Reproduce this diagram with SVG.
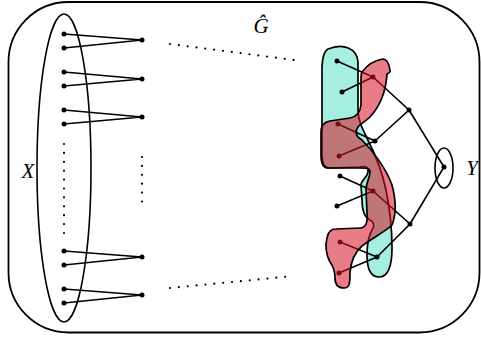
<svg xmlns="http://www.w3.org/2000/svg" width="481" height="338" viewBox="0 0 481 338">
<style>
.ln{stroke:#000;stroke-width:1.6;fill:none}
.dot{fill:#000}
.dots{stroke:#000;stroke-width:2.2;stroke-linecap:round;stroke-dasharray:0 8.9;fill:none}
.lbl{font-family:"Liberation Serif",serif;font-style:italic;font-size:21px;fill:#000}
.cyan{fill:#a4efdf;stroke:#000;stroke-width:1.7}
.red{fill:#d61224;fill-opacity:0.55;stroke:#000;stroke-width:1.7}
</style>
<rect id="G" x="8.5" y="2" width="471" height="330.5" rx="60" ry="60" fill="none" stroke="#000" stroke-width="1.8"/>
<text class="lbl" x="261" y="33" text-anchor="middle">Ĝ</text>
<g id="X">
<ellipse cx="64" cy="168" rx="27" ry="154" class="ln"/>
<text class="lbl" x="28" y="178" text-anchor="middle">X</text>
</g>
<g id="Yset">
<ellipse cx="444" cy="168" rx="9" ry="20" class="ln"/>
<text class="lbl" x="472" y="175" text-anchor="middle">Y</text>
</g>
<g id="cyanSet">
<path class="cyan" d="M328,49 C343,43 357,48 358,62 L358,110 C358,120 362,128 367,138 C374,152 382,170 386,190 C390,210 392,230 392,248 C392,265 388,277 379,277 C370,277 367,268 367,255 C367,243 368,237 372,230 C375,226 374,222 370,220 C364,217 362,210 362,200 L361,185 C361,180 367,178 368,172 C369,167 366,166 360,167 L330,168 C323,168 322,162 322,150 L322,70 C322,60 323,52 328,49 Z"/>
</g>
<g id="connectors" class="ln">
<path d="M64,34 L142,40 L64,48 M64,72 L142,79 L64,86 M64,110 L142,117 L64,124 M64,251 L142,257 L64,265 M64,289 L142,295 L64,303"/>
<path d="M337,61 L373,77 L342,92 M338,124 L375,141 L339,156 M340,176 L373,191 L337,206 M340,242 L377,257 L339,273 M373,77 L409,110 L375,141 M373,191 L410,224 L377,257 M409,110 L444,167 L410,224"/>
<path class="dots" d="M170,44 L294,60 M170,288 L294,276 M64,144 L64,233 M142,157 L142,203"/>
</g>
<g id="nodes" class="dot">
<circle cx="64" cy="34" r="2.5"/><circle cx="64" cy="48" r="2.5"/><circle cx="142" cy="40" r="2.5"/>
<circle cx="64" cy="72" r="2.5"/><circle cx="64" cy="86" r="2.5"/><circle cx="142" cy="79" r="2.5"/>
<circle cx="64" cy="110" r="2.5"/><circle cx="64" cy="124" r="2.5"/><circle cx="142" cy="117" r="2.5"/>
<circle cx="64" cy="251" r="2.5"/><circle cx="64" cy="265" r="2.5"/><circle cx="142" cy="257" r="2.5"/>
<circle cx="64" cy="289" r="2.5"/><circle cx="64" cy="303" r="2.5"/><circle cx="142" cy="295" r="2.5"/>
<circle cx="337" cy="61" r="2.5"/><circle cx="342" cy="92" r="2.5"/><circle cx="373" cy="77" r="2.5"/>
<circle cx="338" cy="124" r="2.5"/><circle cx="339" cy="156" r="2.5"/><circle cx="375" cy="141" r="2.5"/>
<circle cx="340" cy="176" r="2.5"/><circle cx="337" cy="206" r="2.5"/><circle cx="373" cy="191" r="2.5"/>
<circle cx="340" cy="242" r="2.5"/><circle cx="339" cy="273" r="2.5"/><circle cx="377" cy="257" r="2.5"/>
<circle cx="409" cy="110" r="2.5"/><circle cx="410" cy="224" r="2.5"/><circle cx="444" cy="167" r="2.5"/>
</g>
<g id="redSet">
<path class="red" d="M362,72 C368,64 376,60 383,59 C387,59 389,64 390,70 C391,72 389,73 387,74 C386,90 381,105 370,117 C365,122 360,124 358,127 C355,131 355,136 362,140 C372,150 386,168 392,185 C396,200 396,215 392,225 C385,232 372,238 362,246 C354,253 351,262 350,272 C350,283 350,288 344,288 C337,288 335,284 335,278 C335,270 333,266 330,262 C326,255 325,245 327,238 C328,232 331,229 336,229 L360,228 C366,228 368,222 367,212 L366,190 C366,182 370,178 370,172 C370,168 366,168 360,168 L328,168 C323,168 321,164 321,155 L321,132 C321,125 324,122 330,121 L350,118 C356,117 360,114 361,105 L361,80 C361,77 361,74 362,72 Z"/>
</g>
</svg>
